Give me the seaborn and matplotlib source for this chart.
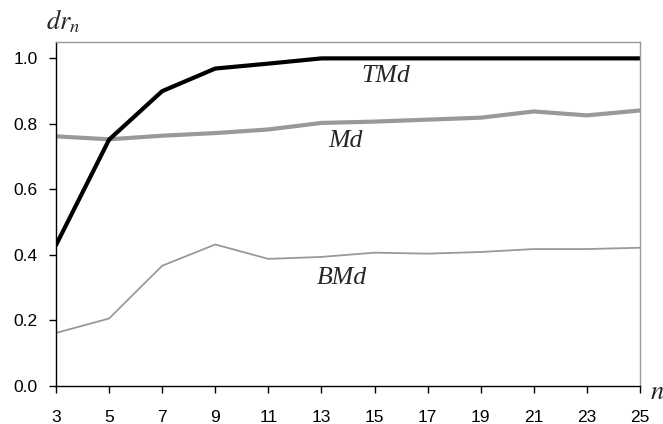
import pandas as pd
import matplotlib.pyplot as plt
import seaborn as sns

# values
n_values = [3, 5, 7, 9, 11, 13, 15, 17, 19, 21, 23, 25]
tmd = [0.43, 0.752, 0.90, 0.969, 0.984, 1.0, 1.0, 1.0, 1.0, 1.0, 1.0, 1.0]
md = [0.762, 0.753, 0.764, 0.772, 0.783, 0.803, 0.807, 0.813, 0.819, 0.838, 0.826, 0.841]
bmd = [0.162, 0.206, 0.367, 0.432, 0.388, 0.394, 0.407, 0.404, 0.409, 0.418, 0.418, 0.422]
y_ticks = [0.0, 0.2, 0.4, 0.6, 0.8, 1.0]

df = pd.DataFrame({'n': n_values, 'TMd': tmd, 'Md': md, 'BMd': bmd})

sns.set_style('ticks')
plt.rcParams['font.family'] = ['Liberation Sans', 'DejaVu Sans']
plt.rcParams['mathtext.fontset'] = 'stix'

fig = plt.figure(figsize=(6.63, 4.24), dpi=100)
ax = fig.add_axes([56 / 663, 1 - 386 / 424, 584 / 663, 344 / 424])

sns.lineplot(data=df, x='n', y='BMd', ax=ax, color='#999999', linewidth=1.3)
sns.lineplot(data=df, x='n', y='Md', ax=ax, color='#999999', linewidth=3.0)
sns.lineplot(data=df, x='n', y='TMd', ax=ax, color='black', linewidth=3.0)

ax.set_xlim(3, 25)
ax.set_ylim(0, 1.05)
ax.set_xticks(n_values)
ax.set_yticks(y_ticks)
ax.set_yticklabels([f'{v:.1f}' for v in y_ticks])
ax.set_xlabel('')
ax.set_ylabel('')
ax.tick_params(axis='x', length=5, width=1, pad=12, labelsize=12.5, colors='black')
ax.tick_params(axis='y', length=5, width=1, pad=8, labelsize=12.5, colors='black')

for side in ['left', 'bottom']:
    ax.spines[side].set_color('black')
    ax.spines[side].set_linewidth(1)
for side in ['top', 'right']:
    ax.spines[side].set_visible(True)
    ax.spines[side].set_color('#999999')
    ax.spines[side].set_linewidth(1)

serif = dict(family='Liberation Serif', style='italic', fontsize=18.5)
ax.text(15.43, 0.946, 'TMd', ha='center', va='center', **serif)
ax.text(13.9, 0.748, 'Md', ha='center', va='center', **serif)
ax.text(13.77, 0.33, 'BMd', ha='center', va='center', **serif)

fig.text(63 / 663, 1 - 21 / 424, '$dr_n$', ha='center', va='center', fontsize=19)
fig.text(657 / 663, 1 - 392 / 424, '$n$', ha='center', va='center', fontsize=19)

fig.savefig('out.png', dpi=100)
plt.close(fig)
